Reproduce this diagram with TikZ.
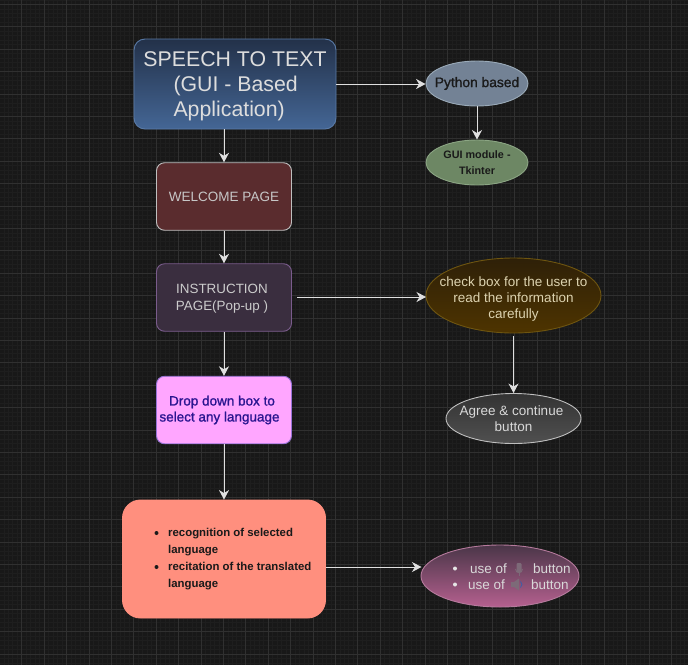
\documentclass[tikz,border=0pt]{standalone}
\usepackage{fontspec}
\setmainfont{Liberation Sans}
\newfontfamily\semib[FakeBold=1.2]{Liberation Sans}
\usetikzlibrary{arrows.meta,shapes.geometric}
\definecolor{bgc}{HTML}{181818}
\definecolor{minorg}{HTML}{1E1E1E}
\definecolor{majorg}{HTML}{303030}
\definecolor{mainedge}{HTML}{5A7BA8}
\definecolor{maintop}{HTML}{233149}
\definecolor{mainbot}{HTML}{446695}
\definecolor{maintxt}{HTML}{DDDDDD}
\definecolor{welfill}{HTML}{5A2C2E}
\definecolor{insedge}{HTML}{7A5C8C}
\definecolor{insfill}{HTML}{3A2E3F}
\definecolor{dropedge}{HTML}{9673D6}
\definecolor{dropfill}{HTML}{FFA6FF}
\definecolor{droptxt}{HTML}{2A1590}
\definecolor{redfill}{HTML}{FF8F7E}
\definecolor{pyedge}{HTML}{9AAAB8}
\definecolor{pyfill}{HTML}{738295}
\definecolor{darktxt}{HTML}{1A1A1A}
\definecolor{guiedge}{HTML}{8BA583}
\definecolor{guifill}{HTML}{6D8764}
\definecolor{chedge}{HTML}{6E5510}
\definecolor{chtop}{HTML}{2E2008}
\definecolor{chbot}{HTML}{4E3400}
\definecolor{chtxt}{HTML}{DDD3B0}
\definecolor{agtop}{HTML}{333333}
\definecolor{agbot}{HTML}{505050}
\definecolor{useedge}{HTML}{B57A9C}
\definecolor{usetop}{HTML}{4A3648}
\definecolor{usebot}{HTML}{B5608F}
\definecolor{icong}{HTML}{7D6A78}
\definecolor{iconb}{HTML}{3A5FA8}
\tikzset{
  x=1pt,y=-1pt,
  every node/.style={font=\fontsize{13.5}{16}\selectfont,inner sep=0pt,align=center},
  boxn/.style={rectangle,minimum width=135pt,minimum height=67.5pt,rounded corners=8pt,line width=0.9pt},
  ell/.style={ellipse,line width=0.9pt,inner sep=-25pt},
  conn/.style={draw=white!88!black,line width=1pt,-{Stealth[length=9.5pt,width=10pt,inset=3pt]}},
  plain/.style={anchor=west},
}
\begin{document}
\begin{tikzpicture}
\useasboundingbox (0,0) rectangle (688,665);
\fill[bgc] (0,0) rectangle (688,665);
% grid
\foreach \i in {0,...,155}{
  \pgfmathsetmacro\xx{-0.7+4.48*\i}
  \draw[minorg,line width=0.5pt] (\xx,0) -- (\xx,665);
}
\foreach \i in {0,...,150}{
  \pgfmathsetmacro\yy{-0.2+4.48*\i}
  \draw[minorg,line width=0.5pt] (0,\yy) -- (688,\yy);
}
\foreach \i in {0,...,31}{
  \pgfmathsetmacro\xx{-0.7+22.4*\i}
  \draw[majorg,line width=0.7pt] (\xx,0) -- (\xx,665);
}
\foreach \i in {0,...,30}{
  \pgfmathsetmacro\yy{4.3+22.4*\i}
  \draw[majorg,line width=0.7pt] (0,\yy) -- (688,\yy);
}
% boxes
\node[boxn,minimum width=202pt,minimum height=90pt,rounded corners=11pt,draw=mainedge,top color=maintop,bottom color=mainbot,text=maintxt,font=\fontsize{21.3}{25}\selectfont,text depth=0pt] (main) at (235,84)
  {SPEECH TO TEXT\\\makebox[123pt][l]{(GUI - Based}\\\makebox[123pt][l]{Application)}};
\node[boxn,draw=white!75!black,fill=welfill,text=white!78!black,font=\fontsize{13.5}{15}\selectfont] (welcome) at (224,196.5) {WELCOME PAGE};
\node[boxn,draw=insedge,fill=insfill,text=white!80!black,font=\fontsize{13.4}{16}\selectfont,text depth=-1pt] (instr) at (224,297.5) {INSTRUCTION\hspace{4pt}\mbox{}\\\rule{0pt}{16pt}PAGE(Pop-up )\hspace{4pt}\mbox{}};
\node[boxn,draw=dropedge,fill=dropfill,text=droptxt,font=\semib\fontsize{13.5}{16}\selectfont] (drop) at (224,410) {Drop down box to\hspace{4pt}\mbox{}\\select any language\hspace{9pt}\mbox{}};
\node[boxn,minimum width=203pt,minimum height=118pt,rounded corners=18pt,draw=redfill,fill=redfill] (red) at (224,559) {};
% ellipses
\node[ell,minimum width=102pt,minimum height=45pt,draw=pyedge,fill=pyfill,text=darktxt,font=\semib\fontsize{13.8}{16}\selectfont] (py) at (477,83.5) {Python based};
\node[ell,minimum width=102pt,minimum height=45pt,draw=guiedge,fill=guifill,text=darktxt,font=\bfseries\fontsize{10.8}{16}\selectfont] (gui) at (477,162.5) {GUI module -\\Tkinter};
\node[ell,minimum width=175pt,minimum height=75pt,draw=chedge,top color=chtop,bottom color=chbot,text=chtxt,font=\fontsize{13.5}{16}\selectfont] (check) at (513.5,295.5) {\rule{0pt}{17pt}check box for the user to\\read the information\\carefully};
\node[ell,minimum width=135pt,minimum height=50pt,draw=white!75!black,top color=agtop,bottom color=agbot,text=white!85!black,font=\fontsize{13.5}{16}\selectfont] (agree) at (513.5,418.5) {Agree \& continue\hspace{4pt}\mbox{}\\button};
\node[ell,minimum width=158pt,minimum height=62pt,draw=useedge,top color=usetop,bottom color=usebot] (use) at (500,576) {};
% red box text
\node[plain,text=darktxt,font=\bfseries\fontsize{11.4}{17.2}\selectfont,align=left] (rec1) at (168,542) {recognition of selected\\language};
\node[plain,text=darktxt,font=\bfseries\fontsize{11.4}{16.5}\selectfont,align=left] (rec2) at (168,576) {recitation of the translated\\language};
\node[circle,fill=darktxt,minimum size=4pt] (b1) at (156.5,533) {};
\node[circle,fill=darktxt,minimum size=4pt] (b2) at (156.5,567) {};
% use text
\node[circle,fill=white!90!black,minimum size=4pt] (b3) at (455,568.5) {};
\node[circle,fill=white!90!black,minimum size=4pt] (b4) at (455,584.5) {};
\node[plain,text=white!85!black] (u1) at (470,568.5) {use of};
\node[plain,text=white!85!black] (u2) at (533,568.5) {button};
\node[plain,text=white!85!black] (u3) at (468,584.5) {use of};
\node[plain,text=white!85!black] (u4) at (531,584.5) {button};
% mic icon
\fill[icong,rounded corners=1pt] (516.5,563) rectangle (521.5,572);
\draw[icong,line width=0.8pt] (515.5,569) .. controls (515.5,574) and (522.5,574) .. (522.5,569);
\draw[icong,line width=1pt] (519,573) -- (519,576);
% speaker icon
\fill[icong] (511,582) -- (514,582) -- (519,578.5) -- (519,590.5) -- (514,587) -- (511,587) -- cycle;
\draw[iconb,line width=0.8pt] (520.5,581.5) .. controls (522.5,583.5) and (522.5,585.5) .. (520.5,587.5);
% connectors
\coordinate (redout) at (325.5,567);
\coordinate (usein) at (421.5,567);
\coordinate (instrout) at (297,297);
\coordinate (checkin) at (426,297);
\coordinate (checkout) at (513.5,336);
\draw[conn] (welcome.north |- main.south) -- (welcome.north);
\draw[conn] (welcome) -- (instr);
\draw[conn] (instr) -- (drop);
\draw[conn] (drop) -- (red);
\draw[conn] (main.east) -- (main.east -| py.west);
\draw[conn] (py) -- (gui);
\draw[conn] (instrout) -- (checkin);
\draw[conn] (checkout) -- (agree.north);
\draw[conn] (redout) -- (usein);
\end{tikzpicture}
\end{document}
